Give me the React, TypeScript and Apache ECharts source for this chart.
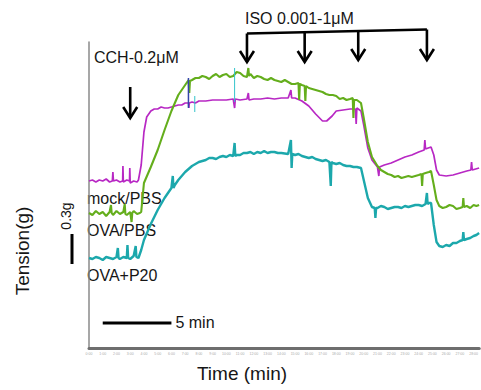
import React, { useEffect, useRef } from "react";
import * as echarts from "echarts";

// Time (min) vs tension (g) traces
const mockPBS: number[][] = [
  [0,1.67],[0.25,1.68],[0.5,1.66],[0.75,1.68],[1,1.67],[1.25,1.69],[1.5,1.66],[1.7,1.67],[1.74,1.76],[1.78,1.67],
  [2,1.68],[2.25,1.66],[2.45,1.67],[2.47,1.82],[2.5,1.66],[2.75,1.68],[2.95,1.67],[2.97,1.80],[3.0,1.65],[3.25,1.67],
  [3.5,1.66],[3.6,1.68],[3.8,1.83],[4.0,2.16],[4.2,2.31],[4.5,2.37],[4.75,2.39],[5,2.39],[5.25,2.41],[5.5,2.40],
  [5.75,2.40],[6,2.41],[6.25,2.42],[6.5,2.43],[6.75,2.43],[7,2.45],[7.25,2.45],[7.27,2.40],[7.3,2.45],[7.5,2.46],
  [7.75,2.45],[8,2.47],[8.5,2.47],[9,2.48],[9.5,2.48],[10,2.48],[10.5,2.49],[10.6,2.40],[10.65,2.49],[11,2.48],
  [11.5,2.49],[11.6,2.55],[11.65,2.48],[12,2.49],[12.5,2.49],[13,2.50],[13.5,2.49],[14,2.50],[14.5,2.50],[14.7,2.58],
  [14.75,2.50],[15,2.50],[15.5,2.47],[16,2.42],[16.5,2.34],[17,2.27],[17.3,2.27],[17.7,2.32],[18,2.37],[18.5,2.38],
  [19,2.39],[19.4,2.39],[19.45,2.24],[19.5,2.40],[19.8,2.37],[20,2.23],[20.3,2.00],[20.6,1.88],[21,1.81],[21.1,1.72],
  [21.15,1.81],[21.5,1.83],[22,1.85],[22.5,1.88],[23,1.91],[23.5,1.93],[24,1.96],[24.4,1.98],[24.45,2.08],[24.5,1.99],
  [24.9,2.01],[25.1,1.93],[25.3,1.78],[25.5,1.73],[26,1.72],[26.5,1.73],[27,1.75],[27.5,1.77],[27.8,1.78],[27.85,1.86],
  [27.9,1.78],[28.4,1.80]
];

const ovaPBS: number[][] = [
  [0,1.35],[0.25,1.33],[0.5,1.37],[0.75,1.34],[1,1.36],[1.25,1.32],[1.5,1.36],[1.6,1.43],[1.65,1.35],[1.75,1.33],
  [2,1.37],[2.25,1.34],[2.5,1.36],[2.6,1.44],[2.65,1.34],[2.75,1.33],[3,1.36],[3.1,1.26],[3.15,1.35],[3.25,1.37],
  [3.5,1.34],[3.7,1.35],[3.8,1.36],[4.0,1.65],[4.5,1.81],[5,1.98],[5.5,2.18],[6,2.37],[6.5,2.53],[7,2.63],
  [7.25,2.68],[7.3,2.55],[7.35,2.67],[7.5,2.68],[7.75,2.70],[8,2.70],[8.25,2.72],[8.5,2.71],[8.75,2.69],[9,2.72],
  [9.25,2.74],[9.5,2.71],[9.75,2.73],[10,2.74],[10.25,2.71],[10.5,2.72],[10.75,2.76],[11,2.75],[11.25,2.72],[11.5,2.71],
  [11.6,2.80],[11.65,2.72],[11.75,2.74],[12,2.70],[12.25,2.72],[12.5,2.71],[12.75,2.69],[13,2.68],[13.25,2.70],[13.5,2.68],
  [13.75,2.67],[14,2.66],[14.25,2.68],[14.5,2.66],[14.75,2.64],[15,2.64],[15.25,2.65],[15.3,2.48],[15.35,2.64],[15.5,2.63],
  [15.7,2.62],[15.75,2.47],[15.8,2.62],[16,2.60],[16.25,2.59],[16.5,2.58],[16.75,2.57],[17,2.56],[17.25,2.54],[17.5,2.53],
  [17.75,2.53],[18,2.52],[18.25,2.49],[18.5,2.50],[18.75,2.48],[19,2.49],[19.2,2.50],[19.25,2.30],[19.3,2.48],[19.5,2.48],
  [19.8,2.45],[20,2.30],[20.3,2.06],[20.6,1.91],[21,1.82],[21.25,1.78],[21.5,1.76],[21.75,1.74],[22,1.73],[22.25,1.71],
  [22.5,1.72],[22.75,1.70],[23,1.71],[23.25,1.72],[23.5,1.71],[23.75,1.72],[24,1.73],[24.2,1.74],[24.25,1.62],[24.3,1.74],
  [24.5,1.75],[24.75,1.76],[24.9,1.77],[25.1,1.63],[25.3,1.48],[25.5,1.42],[25.75,1.40],[26,1.41],[26.25,1.43],[26.5,1.42],
  [26.75,1.39],[27,1.40],[27.2,1.41],[27.25,1.50],[27.3,1.41],[27.5,1.42],[27.75,1.40],[28,1.43],[28.2,1.42],[28.4,1.43]
];

const ovaP20: number[][] = [
  [0,0.90],[0.25,0.89],[0.5,0.91],[0.75,0.90],[1,0.88],[1.25,0.91],[1.5,0.90],[1.75,0.89],[2,0.91],[2.1,1.00],
  [2.15,0.90],[2.25,0.89],[2.5,0.91],[2.75,0.90],[2.8,1.03],[2.85,0.90],[3,0.89],[3.25,0.92],[3.4,1.02],[3.45,0.91],
  [3.6,0.90],[3.8,0.98],[4.0,1.08],[4.25,1.16],[4.5,1.24],[4.75,1.31],[5,1.38],[5.25,1.44],[5.5,1.50],[5.75,1.55],
  [6,1.60],[6.1,1.72],[6.15,1.60],[6.25,1.63],[6.5,1.68],[6.75,1.72],[7,1.76],[7.25,1.79],[7.5,1.82],[7.75,1.84],
  [8,1.86],[8.25,1.87],[8.5,1.88],[8.75,1.90],[9,1.90],[9.25,1.89],[9.5,1.91],[9.75,1.92],[10,1.91],[10.25,1.93],
  [10.5,1.92],[10.6,2.05],[10.65,1.92],[10.75,1.93],[11,1.93],[11.25,1.95],[11.5,1.95],[11.75,1.96],[12,1.94],[12.25,1.96],
  [12.5,1.95],[12.75,1.97],[13,1.95],[13.25,1.96],[13.5,1.96],[13.75,1.95],[14,1.95],[14.5,1.94],[14.7,2.08],[14.75,1.80],
  [14.8,1.94],[15,1.93],[15.25,1.94],[15.5,1.92],[15.75,1.91],[16,1.90],[16.25,1.91],[16.5,1.89],[16.75,1.88],[17,1.87],
  [17.25,1.88],[17.5,1.86],[17.6,1.62],[17.65,1.86],[17.75,1.85],[18,1.84],[18.25,1.85],[18.5,1.83],[18.75,1.82],[19,1.82],
  [19.25,1.81],[19.5,1.81],[19.8,1.80],[20,1.68],[20.3,1.50],[20.6,1.41],[20.8,1.40],[20.85,1.30],[20.9,1.40],[21,1.40],
  [21.25,1.42],[21.5,1.41],[21.75,1.39],[22,1.40],[22.25,1.41],[22.5,1.41],[22.75,1.40],[23,1.42],[23.25,1.41],[23.5,1.42],
  [23.75,1.43],[24,1.43],[24.25,1.42],[24.5,1.44],[24.6,1.55],[24.65,1.44],[24.75,1.45],[24.9,1.45],[25.1,1.23],[25.3,1.06],
  [25.5,1.02],[25.75,1.01],[26,1.03],[26.25,1.02],[26.5,1.05],[26.75,1.05],[27,1.07],[27.2,1.08],[27.25,1.16],[27.3,1.08],
  [27.5,1.09],[27.75,1.10],[28,1.12],[28.2,1.13],[28.4,1.15]
];

// short recording artefacts (vertical strokes)
const artefactBlue: number[][] = [[7.24, 2.70], [7.24, 2.40]];
const artefactCyan1: number[][] = [[7.7, 2.52], [7.7, 2.36]];
const artefactCyan2: number[][] = [[10.6, 2.80], [10.6, 2.46]];

// scale bar: 5 min
const timeBar: number[][] = [[1.0, 0.25], [6.0, 0.25]];

const seriesNames = ["mock/PBS", "OVA/PBS", "OVA+P20"];
const cchTime = 3.0;
const isoTimes = [11.5, 15.7, 19.6, 24.6];

const FONT = "'Liberation Sans', Arial, sans-serif";

export default function App() {
  const ref = useRef<HTMLDivElement>(null);
  useEffect(() => {
    document.body.style.margin = "0";
    if (!ref.current) return;
    const chart = echarts.init(ref.current, undefined, { renderer: "svg" });
    const lineSeries = (name: string, data: number[][], color: string, width: number, z = 2) => ({
      type: "line",
      name,
      data,
      symbol: "none",
      z,
      lineStyle: { color, width },
      itemStyle: { color },
    });
    chart.setOption({
      animation: false,
      grid: { left: 89, right: 0, top: 42, bottom: 42 },
      xAxis: {
        type: "value",
        min: 0,
        max: 28.41,
        interval: 1,
        axisLine: { show: true, lineStyle: { color: "#6e6e6e", width: 3 } },
        axisTick: { show: false },
        splitLine: { show: false },
        axisLabel: {
          fontSize: 3.5,
          color: "#aaa",
          margin: 4,
          showMaxLabel: false,
          formatter: (v: number) => `${v}:00`,
        },
      },
      yAxis: {
        type: "value",
        min: 0,
        max: 3.06,
        axisLine: { show: true, lineStyle: { color: "#8a8a8a", width: 1.5 } },
        axisTick: { show: false },
        axisLabel: { show: false },
        splitLine: { show: false },
      },
      series: [
        lineSeries(seriesNames[0], mockPBS, "#b828c4", 1.7, 2),
        lineSeries(seriesNames[1], ovaPBS, "#64ae1c", 2.1, 3),
        lineSeries(seriesNames[2], ovaP20, "#1ca8ac", 2.4, 4),
        lineSeries("a1", artefactBlue, "#3344aa", 1.5, 5),
        lineSeries("a2", artefactCyan1, "#33c4cc", 1, 5),
        lineSeries("a3", artefactCyan2, "#33c4cc", 1, 5),
        lineSeries("5 min", timeBar, "#000", 3, 5),
      ],
    });

    const px = (t: number) => chart.convertToPixel({ xAxisIndex: 0 }, t) as number;
    const arrow = (x: number, yTop: number, yTip: number) => [
      { type: "line", shape: { x1: x, y1: yTop, x2: x, y2: yTip }, style: { stroke: "#000", lineWidth: 2.6 } },
      {
        type: "polyline",
        shape: { points: [[x - 7, yTip - 11], [x, yTip], [x + 7, yTip - 11]] },
        style: { stroke: "#000", lineWidth: 2.6, fill: null },
      },
    ];
    const isoX = isoTimes.map(px);
    const bracketY = (x: number) => 33.5 - ((x - isoX[0]) / (isoX[3] - isoX[0])) * 4;
    const tips = [62, 62, 60, 60];
    const elements: any[] = [];
    elements.push(...arrow(px(cchTime), 87, 118));
    elements.push({
      type: "line",
      shape: { x1: isoX[0], y1: bracketY(isoX[0]), x2: isoX[3], y2: bracketY(isoX[3]) },
      style: { stroke: "#000", lineWidth: 2.6 },
    });
    isoX.forEach((x, i) => elements.push(...arrow(x, bracketY(x), tips[i])));
    const barEnd = px(timeBar[1][0]);
    const txt = (text: string, x: number, y: number, fontSize: number, extra: any = {}) => ({
      type: "text",
      x,
      y,
      ...extra,
      style: {
        text,
        fontSize,
        fontFamily: FONT,
        fill: "#161616",
        align: extra.align || "left",
        verticalAlign: "middle",
      },
    });
    elements.push(txt("CCH-0.2μM", 94, 57, 16));
    elements.push(txt("ISO 0.001-1μM", 245, 18, 16));
    elements.push(txt(seriesNames[0], 87, 198, 16));
    elements.push(txt(seriesNames[1], 87, 230, 16));
    elements.push(txt(seriesNames[2], 87, 275, 16));
    elements.push(txt("5 min", barEnd + 4, 322, 16));
    elements.push(txt("Time (min)", 242, 373, 19, { align: "center" }));
    elements.push(txt("Tension(g)", 22, 251, 19, { align: "center", rotation: Math.PI / 2 }));
    elements.push(txt("0.3g", 66, 216, 14, { align: "center", rotation: Math.PI / 2 }));
    elements.push({
      type: "line",
      shape: { x1: 72, y1: 234, x2: 72, y2: 264 },
      style: { stroke: "#000", lineWidth: 3 },
    });
    chart.setOption({ graphic: { elements } });
    return () => chart.dispose();
  }, []);
  return <div ref={ref} style={{ width: 481, height: 390 }} />;
}
